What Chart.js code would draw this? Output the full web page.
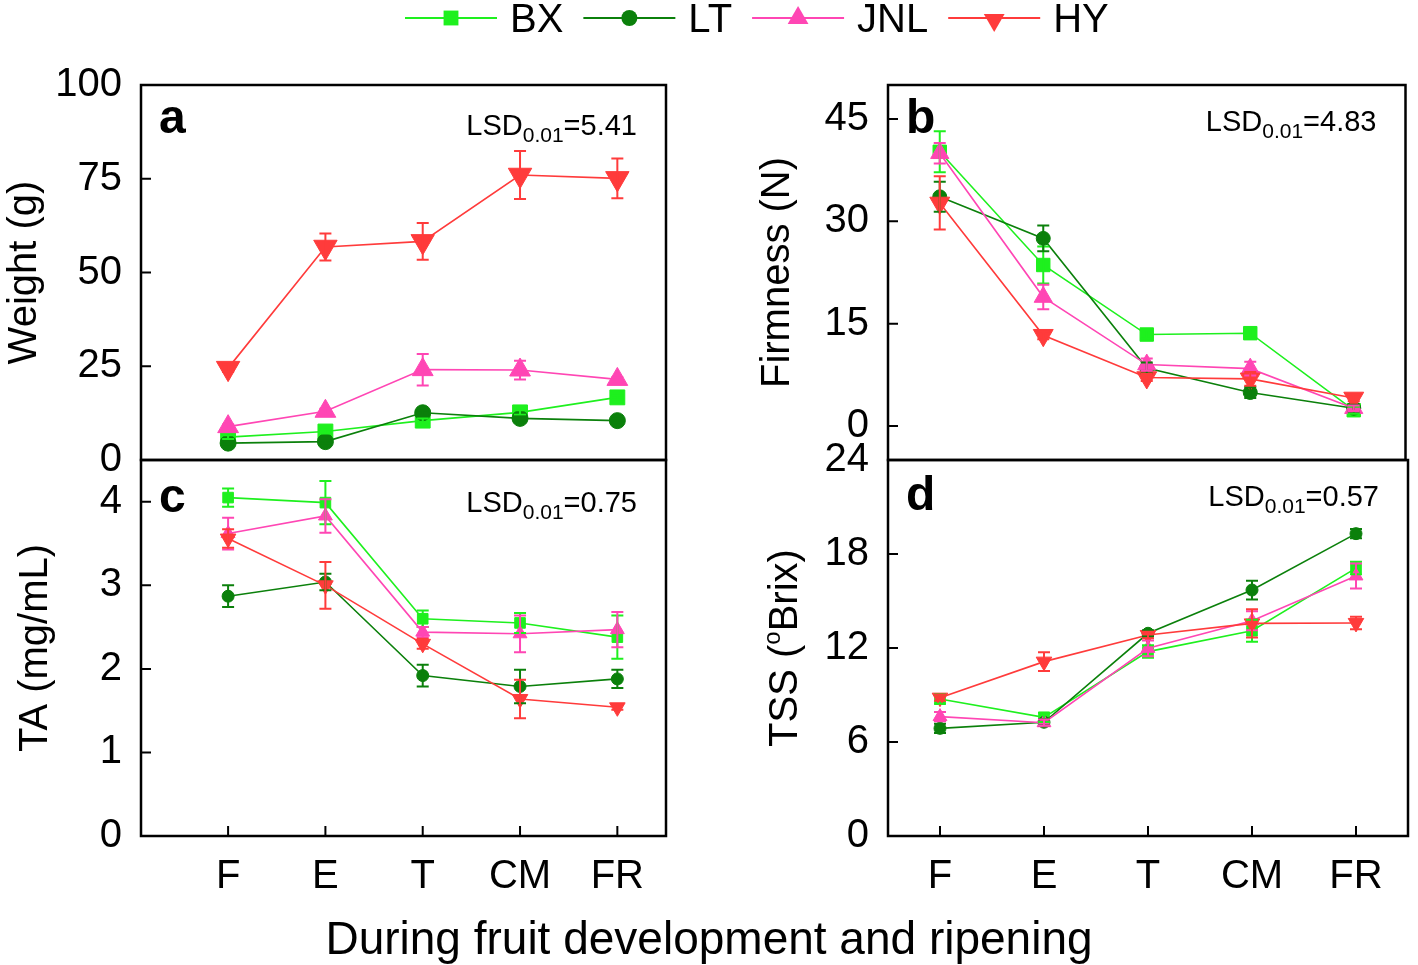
<!DOCTYPE html>
<html>
<head>
<meta charset="utf-8">
<script src="https://cdn.jsdelivr.net/npm/chart.js@4.4.0/dist/chart.umd.min.js"></script>
<style>
  body { margin: 0; background: #fff; }
  #wrap { position: relative; width: 1418px; height: 965px; }
  #wrap canvas { position: absolute; left: 0; top: 0; }
</style>
</head>
<body>
<div id="wrap">
  <canvas id="chartA" width="1418" height="965"></canvas>
  <canvas id="chartB" width="1418" height="965"></canvas>
  <canvas id="chartC" width="1418" height="965"></canvas>
  <canvas id="chartD" width="1418" height="965"></canvas>
</div>
<script>
const STAGES = ["F", "E", "T", "CM", "FR"];
const SERIES = ["BX", "LT", "JNL", "HY"];

// a - fruit weight (g)
const WEIGHT_BX = [6.1, 7.6, 10.5, 12.7, 16.7];
const WEIGHT_LT = [4.5, 4.9, 12.6, 11.1, 10.5];
const WEIGHT_JNL = [8.9, 13.0, 24.1, 24.0, 21.5];
const WEIGHT_HY = [24.5, 56.8, 58.3, 76.0, 75.1];
const WEIGHT_BX_SD = [0.5, 0.5, 0.6, 0.6, 0.6];
const WEIGHT_LT_SD = [0.4, 0.4, 0.6, 0.5, 0.5];
const WEIGHT_JNL_SD = [0.6, 0.7, 4.2, 2.5, 0.6];
const WEIGHT_HY_SD = [1.0, 3.6, 4.9, 6.4, 5.3];

// b - firmness (N)
const FIRM_BX = [40.2, 23.6, 13.4, 13.6, 2.3];
const FIRM_LT = [33.6, 27.5, 8.5, 4.9, 2.6];
const FIRM_JNL = [40.0, 18.9, 9.0, 8.4, 2.6];
const FIRM_HY = [32.7, 13.3, 7.1, 6.9, 4.1];
const FIRM_BX_SD = [3.0, 2.7, 0.6, 0.6, 0.5];
const FIRM_LT_SD = [2.2, 1.9, 0.8, 0.8, 0.5];
const FIRM_JNL_SD = [1.5, 1.8, 0.9, 1.0, 0.4];
const FIRM_HY_SD = [3.9, 0.6, 0.5, 1.0, 0.5];

// c - titratable acid (mg/mL)
const TA_BX = [4.05, 3.99, 2.60, 2.55, 2.38];
const TA_LT = [2.87, 3.04, 1.92, 1.79, 1.88];
const TA_JNL = [3.62, 3.83, 2.44, 2.42, 2.47];
const TA_HY = [3.56, 3.00, 2.30, 1.64, 1.54];
const TA_BX_SD = [0.11, 0.26, 0.10, 0.12, 0.26];
const TA_LT_SD = [0.13, 0.10, 0.13, 0.20, 0.11];
const TA_JNL_SD = [0.19, 0.20, 0.06, 0.22, 0.21];
const TA_HY_SD = [0.11, 0.28, 0.06, 0.23, 0.03];

// d - soluble solids (Brix)
const TSS_BX = [8.74, 7.57, 11.77, 13.1, 17.1];
const TSS_LT = [6.87, 7.26, 12.94, 15.7, 19.3];
const TSS_JNL = [7.62, 7.23, 11.98, 13.74, 16.6];
const TSS_HY = [8.83, 11.13, 12.83, 13.57, 13.6];
const TSS_BX_SD = [0.3, 0.3, 0.4, 0.7, 0.4];
const TSS_LT_SD = [0.3, 0.2, 0.2, 0.6, 0.3];
const TSS_JNL_SD = [0.3, 0.2, 0.5, 0.6, 0.8];
const TSS_HY_SD = [0.2, 0.6, 0.2, 0.9, 0.4];

const WEIGHT_TICKS = [0, 25, 50, 75, 100];
const FIRM_TICKS = [0, 15, 30, 45];
const TA_TICKS = [0, 1, 2, 3, 4];
const TSS_TICKS = [0, 6, 12, 18, 24];
const X_TICKS = [1, 2, 3, 4, 5];

const FONT = "'Liberation Sans', Arial, Helvetica, sans-serif";
Chart.defaults.font.family = FONT;
Chart.defaults.color = "#000";

const COLORS = { BX: "#1ef01e", LT: "#0b800b", JNL: "#ff46b4", HY: "#ff3b3b" };
const MARKERS = {
  BX: { style: "rect", rot: 0 },
  LT: { style: "circle", rot: 0 },
  JNL: { style: "triangle", rot: 0 },
  HY: { style: "triangle", rot: 180 },
};

// fixed room for the axis labels (scale labels are clipped to the scale box)
const Y_AXIS_W = 120;
const X_AXIS_H = 70;

// error bars, drawn over the markers like in Origin
const errorBars = {
  id: "errorBars",
  afterDatasetsDraw(chart) {
    const ctx = chart.ctx;
    const ys = chart.scales.y;
    chart.data.datasets.forEach((ds, i) => {
      const meta = chart.getDatasetMeta(i);
      ctx.save();
      ctx.strokeStyle = ds.borderColor;
      ctx.lineWidth = 2;
      ctx.beginPath();
      meta.data.forEach((pt, j) => {
        const v = ds.data[j].y, e = ds.sd[j];
        const t = ys.getPixelForValue(v + e), b = ys.getPixelForValue(v - e);
        ctx.moveTo(pt.x, t); ctx.lineTo(pt.x, b);
        ctx.moveTo(pt.x - 6, t); ctx.lineTo(pt.x + 6, t);
        ctx.moveTo(pt.x - 6, b); ctx.lineTo(pt.x + 6, b);
      });
      ctx.stroke();
      ctx.restore();
    });
  }
};

function drawVTitle(ctx, parts, cx, cy, size) {
  const big = size + "px " + FONT, small = Math.round(size * 0.6) + "px " + FONT;
  ctx.save();
  ctx.translate(cx, cy);
  ctx.rotate(-Math.PI / 2);
  let total = 0;
  parts.forEach(p => { ctx.font = p.sup ? small : big; p.w = ctx.measureText(p.t).width; total += p.w; });
  let x = -total / 2;
  ctx.textBaseline = "alphabetic";
  ctx.fillStyle = "#000";
  parts.forEach(p => {
    ctx.font = p.sup ? small : big;
    ctx.fillText(p.t, x, p.sup ? size * 0.35 - size * 0.42 : size * 0.35);
    x += p.w;
  });
  ctx.restore();
}

const panelFrame = {
  id: "panelFrame",
  afterDraw(chart, args, o) {
    const { ctx, chartArea: a, scales } = chart;
    ctx.save();
    ctx.strokeStyle = "#000";
    ctx.lineWidth = 2.5;
    ctx.strokeRect(a.left, a.top, a.right - a.left, a.bottom - a.top);
    ctx.lineWidth = 2;
    ctx.beginPath();
    scales.y.ticks.forEach(t => {
      const py = scales.y.getPixelForValue(t.value);
      ctx.moveTo(a.left, py); ctx.lineTo(a.left + 10, py);
    });
    if (o.xTicks) {
      scales.x.ticks.forEach(t => {
        const px = scales.x.getPixelForValue(t.value);
        ctx.moveTo(px, a.bottom); ctx.lineTo(px, a.bottom - 10);
      });
    }
    ctx.stroke();

    ctx.fillStyle = "#000";
    ctx.textBaseline = "alphabetic";
    ctx.textAlign = "left";
    ctx.font = "bold 48px " + FONT;
    ctx.fillText(o.letter, a.left + 18, a.top + o.letterDy);

    // LSD with subscript, right aligned
    const big = "29px " + FONT, sub = "21px " + FONT;
    ctx.font = big; const w1 = ctx.measureText("LSD").width; const w3 = ctx.measureText("=" + o.lsd).width;
    ctx.font = sub; const w2 = ctx.measureText("0.01").width;
    let x = a.right - 29 - (w1 + w2 + w3);
    const by = a.top + o.lsdDy;
    ctx.font = big; ctx.fillText("LSD", x, by); x += w1;
    ctx.font = sub; ctx.fillText("0.01", x, by + 7); x += w2;
    ctx.font = big; ctx.fillText("=" + o.lsd, x, by);

    drawVTitle(ctx, o.title, o.titleX, (a.top + a.bottom) / 2, 40);

    if (o.page) {
      // legend across the top
      let lx = 405;
      SERIES.forEach(s => {
        ctx.strokeStyle = COLORS[s];
        ctx.lineWidth = 1.8;
        ctx.beginPath(); ctx.moveTo(lx, 18); ctx.lineTo(lx + 92, 18); ctx.stroke();
        ctx.fillStyle = COLORS[s];
        const r = s === "LT" ? 8 : (s === "BX" ? 10.5 : 12);
        Chart.helpers.drawPoint(ctx, { pointStyle: MARKERS[s].style, rotation: MARKERS[s].rot, radius: r, borderWidth: 0 }, lx + 46, s === "HY" ? 20 : 18);
        ctx.fillStyle = "#000";
        ctx.font = "40px " + FONT;
        ctx.fillText(s, lx + 105, 32);
        lx += 105 + ctx.measureText(s).width + 20;
      });
      ctx.font = "46px " + FONT;
      ctx.textAlign = "center";
      ctx.fillText("During fruit development and ripening", 709, 954);
    }
    ctx.restore();
  }
};

function makePanel(id, p) {
  const datasets = SERIES.map((s, k) => ({
    label: s,
    data: p.values[k].map((v, i) => ({ x: X_TICKS[i], y: v })),
    sd: p.errors[k],
    borderColor: COLORS[s],
    backgroundColor: COLORS[s],
    pointBackgroundColor: COLORS[s],
    pointBorderColor: COLORS[s],
    pointBorderWidth: 1,
    pointStyle: MARKERS[s].style,
    pointRotation: MARKERS[s].rot,
    pointRadius: p.radius[k],
    borderWidth: 1.6,
    tension: 0,
    order: 3 - k,
  }));
  const xh = p.xTicks ? X_AXIS_H : 0;
  return new Chart(document.getElementById(id), {
    type: "line",
    data: { datasets },
    plugins: [errorBars, panelFrame],
    options: {
      responsive: false,
      animation: false,
      events: [],
      layout: {
        padding: {
          left: p.box[0] - Y_AXIS_W,
          top: p.box[1],
          right: 1418 - p.box[2],
          bottom: 965 - p.box[3] - xh,
        },
      },
      scales: {
        x: {
          type: "linear",
          min: p.xRange[0],
          max: p.xRange[1],
          display: p.xTicks,
          grid: { display: false },
          border: { display: false },
          afterBuildTicks: sc => { sc.ticks = X_TICKS.map(v => ({ value: v })); },
          afterFit: sc => { sc.height = xh; },
          ticks: {
            autoSkip: false, maxRotation: 0, padding: 9,
            font: { size: 40 }, color: "#000",
            callback: v => STAGES[v - 1],
          },
        },
        y: {
          min: p.yRange[0],
          max: p.yRange[1],
          grid: { display: false },
          border: { display: false },
          afterBuildTicks: sc => { sc.ticks = p.yTicks.map(v => ({ value: v })); },
          afterFit: sc => { sc.width = Y_AXIS_W; },
          ticks: { autoSkip: false, padding: 11, font: { size: 40 }, color: "#000" },
        },
      },
      plugins: {
        legend: { display: false },
        tooltip: { enabled: false },
        panelFrame: {
          letter: p.letter, lsd: p.lsd, letterDy: p.letterDy, lsdDy: p.lsdDy,
          xTicks: p.xTicks, title: p.title, titleX: p.titleX, page: !!p.page,
        },
      },
    },
  });
}

makePanel("chartA", {
  box: [141, 85, 666, 460], xRange: [0.105, 5.5], yRange: [0, 100], yTicks: WEIGHT_TICKS,
  values: [WEIGHT_BX, WEIGHT_LT, WEIGHT_JNL, WEIGHT_HY],
  errors: [WEIGHT_BX_SD, WEIGHT_LT_SD, WEIGHT_JNL_SD, WEIGHT_HY_SD],
  radius: [10.5, 8, 12, 13.5], xTicks: false,
  letter: "a", lsd: "5.41", letterDy: 48, lsdDy: 50,
  title: [{ t: "Weight (g)" }], titleX: 22, page: true,
});
makePanel("chartB", {
  box: [888, 85, 1414, 460], xRange: [0.5, 5.5], yRange: [-5, 50], yTicks: FIRM_TICKS,
  values: [FIRM_BX, FIRM_LT, FIRM_JNL, FIRM_HY],
  errors: [FIRM_BX_SD, FIRM_LT_SD, FIRM_JNL_SD, FIRM_HY_SD],
  radius: [9.5, 7, 10.5, 11.5], xTicks: false,
  letter: "b", lsd: "4.83", letterDy: 48, lsdDy: 46,
  title: [{ t: "Firmness (N)" }], titleX: 775,
});
makePanel("chartC", {
  box: [141, 460, 666, 836], xRange: [0.105, 5.5], yRange: [0, 4.5], yTicks: TA_TICKS,
  values: [TA_BX, TA_LT, TA_JNL, TA_HY],
  errors: [TA_BX_SD, TA_LT_SD, TA_JNL_SD, TA_HY_SD],
  radius: [7.5, 6, 8, 9], xTicks: true,
  letter: "c", lsd: "0.75", letterDy: 52, lsdDy: 52,
  title: [{ t: "TA (mg/mL)" }], titleX: 33,
});
makePanel("chartD", {
  box: [888, 460, 1414, 836], xRange: [0.5, 5.5], yRange: [0, 24], yTicks: TSS_TICKS,
  values: [TSS_BX, TSS_LT, TSS_JNL, TSS_HY],
  errors: [TSS_BX_SD, TSS_LT_SD, TSS_JNL_SD, TSS_HY_SD],
  radius: [7.5, 6, 8, 9], xTicks: true,
  letter: "d", lsd: "0.57", letterDy: 50, lsdDy: 46,
  title: [{ t: "TSS (" }, { t: "o", sup: true }, { t: "Brix)" }], titleX: 783,
});
</script>
</body>
</html>
